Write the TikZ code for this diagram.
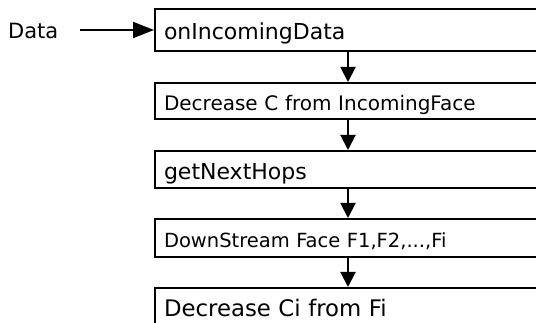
\documentclass[tikz,border=0pt]{standalone}
\usepackage{fontspec}
\setmainfont{DejaVu Sans}
\usetikzlibrary{arrows.meta}
\begin{document}
\begin{tikzpicture}[x=1pt,y=-1pt,
  stepbox/.style={draw=black,line width=2pt,rectangle,anchor=north west,
    minimum width=386pt,text width=368pt,align=left,inner xsep=9pt,inner ysep=0pt,
    text height=20pt,text depth=0pt},
  bigtxt/.style={font=\fontsize{22}{26}\selectfont},
  smalltxt/.style={font=\fontsize{19.5}{24}\selectfont},
  arr/.style={line width=2pt,-{Triangle[length=15pt,width=15pt]}},
  harr/.style={line width=2pt,-{Triangle[length=21pt,width=16pt]}}]
\useasboundingbox (0,0) rectangle (536,323);
\fill[white] (0,0) rectangle (536,323);
\clip (0,0) rectangle (536,323);
\node[font=\fontsize{21}{25}\selectfont,anchor=base west,inner sep=3pt] (data) at (5,39) {Data};
\node[stepbox,bigtxt,minimum height=42pt] (b1) at (154,8) {onIncomingData};
\node[stepbox,font=\fontsize{20}{24}\selectfont,minimum height=36pt] (b2) at (154,82) {Decrease C from IncomingFace};
\node[stepbox,bigtxt,minimum height=37pt] (b3) at (154,150) {getNextHops};
\node[stepbox,smalltxt,minimum height=38pt] (b4) at (154,218) {DownStream Face F1,F2,...,Fi};
\node[stepbox,font=\fontsize{22.8}{27}\selectfont,minimum height=38pt] (b5) at (154,287) {Decrease Ci from Fi};
\draw[harr,shorten <=18pt] (data.east |- b1.west) -- (b1.west);
\draw[arr] (b1.south) -- (b2.north);
\draw[arr] (b2.south) -- (b3.north);
\draw[arr] (b3.south) -- (b4.north);
\draw[arr] (b4.south) -- (b5.north);
\end{tikzpicture}
\end{document}
